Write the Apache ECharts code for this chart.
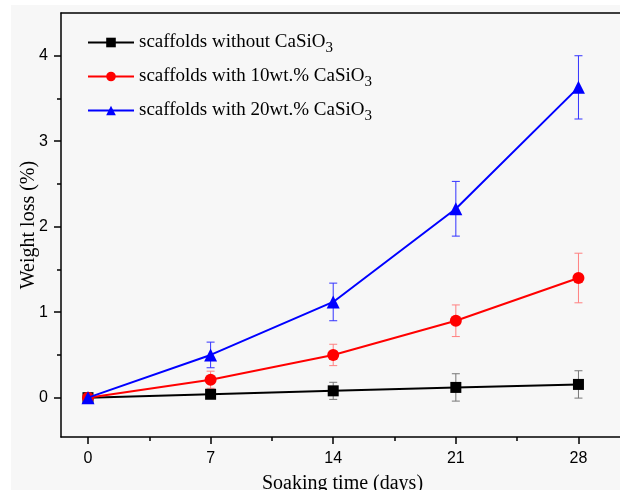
<!DOCTYPE html>
<html>
<head>
<meta charset="utf-8">
<script src="https://cdn.jsdelivr.net/npm/echarts@6/dist/echarts.min.js"></script>
<style>
  html, body { margin: 0; padding: 0; background: #fff; }
  #wrap { position: relative; width: 620px; height: 490px; overflow: hidden; }
  #paper { position: absolute; left: 11px; top: 5px; right: 0; bottom: 0; background: #f7f7f7; }
  #chart { position: absolute; left: 0; top: 0; width: 620px; height: 490px; }
</style>
</head>
<body>
<div id="wrap">
  <div id="paper"></div>
  <div id="chart"></div>
</div>
<script>
// soaking days
const days = [0, 7, 14, 21, 28];

// weight loss (%) and error half-widths
const noCaSiO3 = [0, 0.04, 0.08, 0.12, 0.155];
const noCaSiO3Err = [0, 0.03, 0.1, 0.16, 0.16];
const ca10 = [0, 0.21, 0.5, 0.9, 1.4];
const ca10Err = [0, 0.1, 0.125, 0.185, 0.29];
const ca20 = [0, 0.5, 1.12, 2.21, 3.63];
const ca20Err = [0, 0.15, 0.22, 0.32, 0.37];

const xMajor = [0, 7, 14, 21, 28];
const xMinor = [3.5, 10.5, 17.5, 24.5];
const yMajor = [0, 1, 2, 3, 4];
const yMinor = [0.5, 1.5, 2.5, 3.5];

const names = [
  "scaffolds without CaSiO3",
  "scaffolds with 10wt.% CaSiO3",
  "scaffolds with 20wt.% CaSiO3",
];

const pairs = (ys) => days.map((d, i) => [d, ys[i]]);
// vertical segments low->high, broken with '-' between days
const errPath = (ys, es) =>
  days.flatMap((d, i) => [[d, ys[i] - es[i]], [d, ys[i] + es[i]], [d, "-"]]);

function errSeries(id, ys, es, color) {
  return {
    type: "line",
    name: id,
    data: errPath(ys, es),
    color: color,
    symbol: "rect",
    symbolSize: [8, 1],
    showAllSymbol: true,
    connectNulls: false,
    lineStyle: { width: 1, color: color },
    itemStyle: { color: color },
    silent: true,
    z: 1,
  };
}

const chart = echarts.init(document.getElementById("chart"));

const axisCommon = {
  type: "value",
  splitLine: { show: false },
  axisLine: { onZero: false, lineStyle: { color: "#000", width: 1.5 } },
};
const xRange = { min: -1.54, max: 30.6 };
const yRange = { min: -0.46, max: 4.5 };

const option = {
  animation: false,
  textStyle: { fontFamily: "Liberation Sans" },
  grid: { left: 61, right: -4, top: 13, bottom: 53, outerBoundsMode: "none" },
  legend: {
    data: names,
    orient: "vertical",
    left: 82,
    top: 28,
    itemWidth: 46,
    itemHeight: 12,
    itemGap: 11,
    selectedMode: false,
    formatter: (n) => n.replace(/3$/, "{sub|3}"),
    textStyle: {
      fontFamily: "Liberation Serif",
      fontSize: 19,
      color: "#000",
      rich: {
        sub: { fontFamily: "Liberation Serif", fontSize: 15, padding: [12, 0, 0, 0], verticalAlign: "bottom" },
      },
    },
  },
  xAxis: [
    Object.assign({}, axisCommon, xRange, {
      position: "bottom",
      name: "Soaking time (days)",
      nameLocation: "middle",
      nameGap: 37,
      nameMoveOverlap: false,
      nameTextStyle: { fontFamily: "Liberation Serif", fontSize: 20, color: "#000" },
      axisTick: { customValues: xMajor, length: 7, lineStyle: { color: "#000", width: 1.5 } },
      axisLabel: { customValues: xMajor, fontSize: 16, color: "#000", margin: 14 },
    }),
    Object.assign({}, axisCommon, xRange, {
      position: "bottom",
      axisLine: { show: false, onZero: false },
      axisTick: { customValues: xMinor, length: 4, lineStyle: { color: "#000", width: 1.5 } },
      axisLabel: { show: false },
    }),
    Object.assign({}, axisCommon, xRange, {
      position: "top",
      axisTick: { show: false },
      axisLabel: { show: false },
    }),
  ],
  yAxis: [
    Object.assign({}, axisCommon, yRange, {
      position: "left",
      name: "Weight loss (%)",
      nameLocation: "middle",
      nameGap: 22,
      nameMoveOverlap: false,
      nameTextStyle: { fontFamily: "Liberation Serif", fontSize: 20, color: "#000" },
      axisTick: { customValues: yMajor, length: 7, lineStyle: { color: "#000", width: 1.5 } },
      axisLabel: { customValues: yMajor, fontSize: 16, color: "#000", margin: 13 },
    }),
    Object.assign({}, axisCommon, yRange, {
      position: "left",
      axisLine: { show: false, onZero: false },
      axisTick: { customValues: yMinor, length: 4, lineStyle: { color: "#000", width: 1.5 } },
      axisLabel: { show: false },
    }),
  ],
  series: [
    errSeries("err0", noCaSiO3, noCaSiO3Err, "#777"),
    errSeries("err1", ca10, ca10Err, "#ff8080"),
    errSeries("err2", ca20, ca20Err, "#3333ff"),
    {
      type: "line",
      name: names[0],
      data: pairs(noCaSiO3),
      color: "#000",
      symbol: "rect",
      symbolSize: 11,
      lineStyle: { width: 2 },
      z: 3,
    },
    {
      type: "line",
      name: names[1],
      data: pairs(ca10),
      color: "#ff0000",
      symbol: "circle",
      symbolSize: 12,
      lineStyle: { width: 2 },
      z: 4,
    },
    {
      type: "line",
      name: names[2],
      data: pairs(ca20),
      color: "#0000ff",
      symbol: "triangle",
      symbolSize: 13,
      lineStyle: { width: 2 },
      z: 5,
    },
  ],
};

chart.setOption(option);
</script>
</body>
</html>
